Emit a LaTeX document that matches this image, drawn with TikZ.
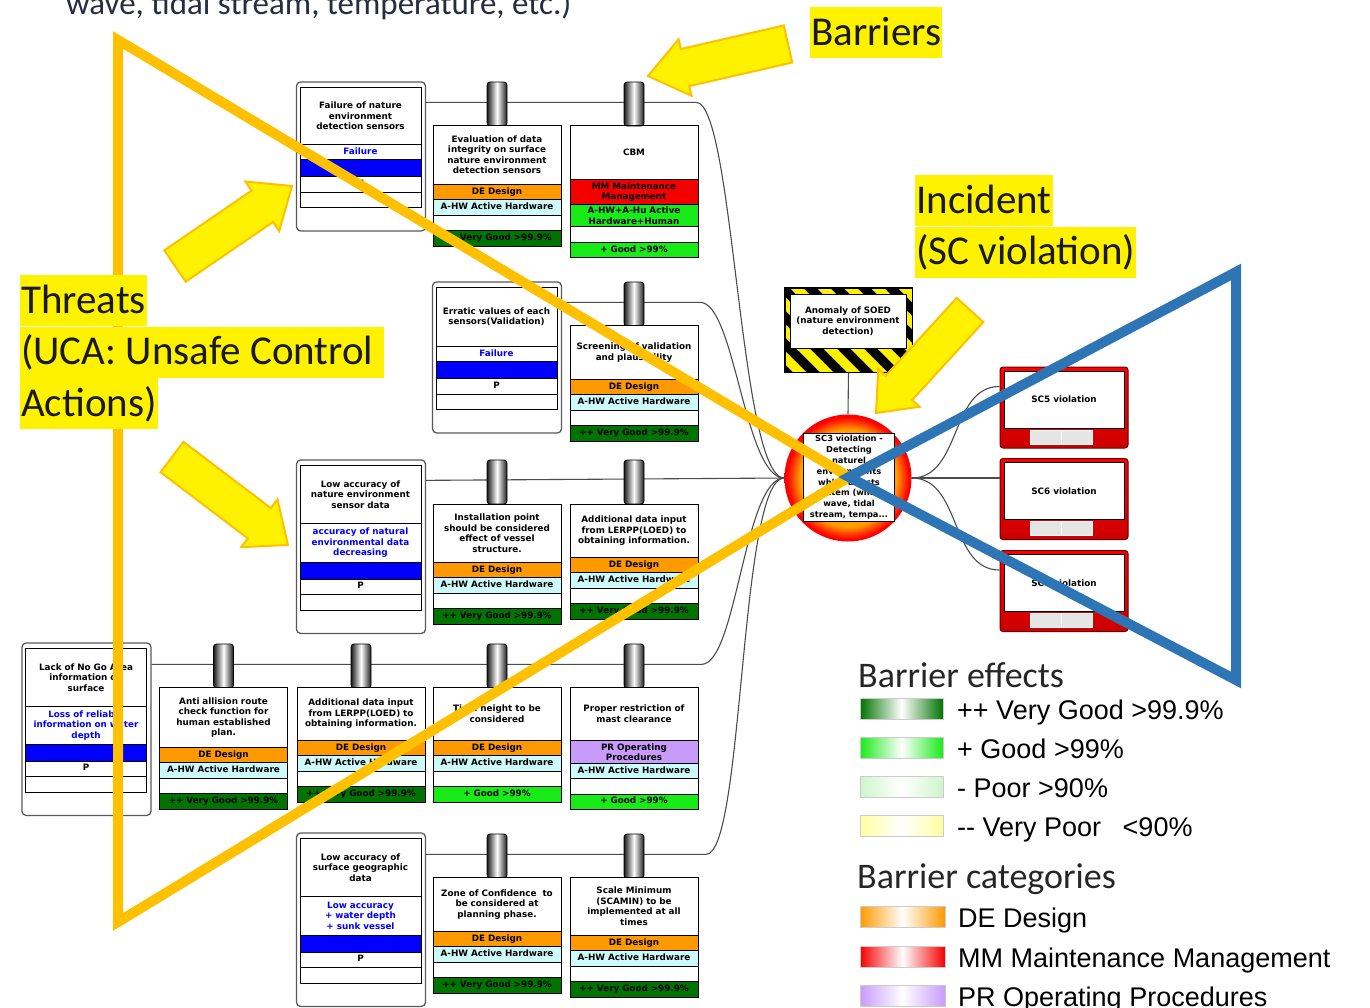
\documentclass[tikz,border=0pt]{standalone}
\usepackage{fontspec}
\usetikzlibrary{calc,fit,shapes.multipart,backgrounds}
\newfontfamily\bxfont{DejaVu Sans}
\newfontfamily\lbfont{Carlito}
\newfontfamily\arfont{Liberation Sans}
\definecolor{deor}{RGB}{255,153,0}
\definecolor{hwcy}{RGB}{205,250,250}
\definecolor{vgood}{RGB}{0,115,0}
\definecolor{good}{RGB}{25,235,25}
\definecolor{poor}{RGB}{205,245,205}
\definecolor{vpoor}{RGB}{255,255,160}
\definecolor{mmred}{RGB}{245,0,0}
\definecolor{prvio}{RGB}{200,155,250}
\definecolor{thrblue}{RGB}{0,0,255}
\definecolor{triorange}{RGB}{255,192,0}
\definecolor{triblue}{RGB}{46,117,182}
\definecolor{hzor}{RGB}{255,160,0}
\definecolor{capgray}{RGB}{40,44,64}
\pgfdeclareradialshading{hzball}{\pgfpointorigin}{color(0bp)=(hzor); color(19bp)=(hzor); color(24bp)=(red); color(50bp)=(red)}
\newcommand{\bx}{\bxfont\bfseries\fontsize{8.8}{10.5}\selectfont}
\newcommand{\ttl}[3][124]{\parbox[c][#2pt][c]{#1pt}{\centering #3}}
\newcommand{\bands}[3]{\nodepart{two}\strut #1\nodepart{three}\strut #2\nodepart{four}\strut\nodepart{five}\strut #3}
\newcommand{\thrparts}[2]{\nodepart{two}\color{thrblue}#1\nodepart{three}\rule{0pt}{12pt}\nodepart{four}\strut #2\nodepart{five}\strut}
\newcommand{\bigarrow}[5]{%
  \coordinate (hb) at ($(#2)!#5!(#1)$);
  \draw[yarr] ($(#1)!#3!90:(#2)$) -- ($(hb)!#3!90:(#2)$) -- ($(hb)!#4!90:(#2)$) -- (#2)
    -- ($(hb)!#4!-90:(#2)$) -- ($(hb)!#3!-90:(#2)$) -- ($(#1)!#3!-90:(#2)$) -- cycle;}
\begin{document}
\begin{tikzpicture}[x=1pt, y=-1pt, every node/.style={font=\bx},
  bar/.style={rectangle split, rectangle split parts=5, draw, line width=0.9pt, text width=124pt,
    inner xsep=2pt, inner ysep=2pt, align=center, anchor=north},
  vgDE/.style={rectangle split part fill={white,deor,hwcy,white,vgood}},
  gDE/.style={rectangle split part fill={white,deor,hwcy,white,good}},
  gPR/.style={rectangle split part fill={white,prvio,hwcy,white,good}},
  thr/.style={bar, text width=117pt, rectangle split part fill={white,white,thrblue,white,white}},
  frm/.style={draw=gray!70!black, line width=1.3pt, rounded corners=4pt, inner sep=0pt},
  pill/.style={draw, line width=0.8pt, rounded corners=3pt, minimum width=20pt, minimum height=44pt,
    inner sep=0pt, left color=black!90, right color=black!90, middle color=white},
  lnk/.style={draw=gray!60!black, line width=1.1pt},
  cons/.style={draw=red!40!black, line width=1pt, rounded corners=3pt, minimum width=128pt,
    minimum height=81pt, inner sep=0pt, top color=red, bottom color=red!80!black},
  consin/.style={draw, fill=white, line width=1pt, minimum width=120pt, minimum height=57pt, inner sep=0pt},
  cell/.style={fill=gray!20, draw=white, line width=0.8pt, minimum width=31pt, minimum height=14pt, inner sep=0pt},
  otri/.style={draw=triorange, line width=10pt},
  btri/.style={draw=triblue, line width=10pt},
  yarr/.style={fill=yellow, draw=triorange, line width=2pt},
  hl/.style={fill=yellow, inner xsep=1pt, inner ysep=0pt, text height=38pt, text depth=13pt,
    anchor=north west, font=\lbfont\fontsize{41}{49}\selectfont, text=black!90},
  hd/.style={anchor=base west, inner sep=0pt, font=\lbfont\fontsize{36}{40}\selectfont, text=black!85},
  sw/.style={minimum width=83pt, minimum height=21pt, inner sep=0pt, draw=gray!40, line width=0.6pt},
  lt/.style={anchor=base west, inner sep=0pt, font=\arfont\fontsize{27}{30}\selectfont}]
\useasboundingbox (0,0) rectangle (1370,1007);
\clip (0,0) rectangle (1370,1007);
\node[anchor=base west, inner sep=0pt, font=\lbfont\fontsize{33}{38}\selectfont, text=capgray] (cap) at (66,14)
  {wave, tidal stream, temperature, etc.)};
% Threats
\node[thr] (t1) at (360.5,87) {\ttl[117]{52}{Failure of nature\\environment\\detection sensors}\thrparts{\strut Failure}{N}};
\node[thr] (t2) at (496.5,287) {\ttl[117]{54}{Erratic values of each\\sensors(Validation)}\thrparts{\strut Failure}{P}};
\node[thr] (t3) at (360.5,465) {\ttl[117]{53}{Low accuracy of\\nature environment\\sensor data}\thrparts{\ttl[117]{34}{accuracy of natural\\environmental data\\decreasing}}{P}};
\node[thr] (t4) at (86,648) {\ttl[117]{53}{Lack of No Go Area\\information on\\surface}\thrparts{\ttl[117]{33}{Loss of reliable\\information on water\\depth}}{P}};
\node[thr] (t5) at (360.5,838) {\ttl[117]{53}{Low accuracy of\\surface geographic\\data}\thrparts{\ttl[117]{34}{Low accuracy\\+ water depth\\+ sunk vessel}}{P}};
\foreach \i in {1,...,5}
  \node[frm, fit={($(t\i.north west)+(-3,-5)$) ($(t\i.south east)+(4,23)$)}] (f\i) {};
% Top event and hazard
\node[draw, line width=1pt, fill=yellow, minimum width=127pt, minimum height=84pt, inner sep=0pt] (hzb) at (848.5,330) {};
\begin{scope}
  \clip (hzb.south west) rectangle (hzb.north east);
  \foreach \s in {0,...,10} \draw[line width=9.5pt] (690+\s*27,276) -- ++(100,100);
\end{scope}
\draw[line width=1pt] (hzb.south west) rectangle (hzb.north east);
\node[draw, fill=white, line width=1pt, minimum width=116pt, minimum height=54pt, text width=110pt, align=center, inner sep=0pt] (hzl)
  at (848,321) {Anomaly of SOED\\(nature environment\\detection)};
\node[circle, minimum size=127pt, inner sep=0pt, shade, shading=hzball] (hz) at (848,478) {};
\node[draw, fill=white, line width=1pt, text width=86pt, align=center, inner sep=2.5pt,
  font=\bx\fontsize{8.3}{10.8}\selectfont] (hzt) at (849,477.5)
  {SC3 violation -\\Detecting\\naturel\\environments\\which affects\\system (wind,\\wave, tidal\\stream, tempa...};
% Consequences
\foreach \n/\y in {5/407.5,6/499,7/591} {
  \node[cons] (c\n) at (1064,\y) {};
  \node[consin] (cw\n) at (1064,\y-8) {SC\n\ violation};
  \node[cell] (cl\n) at (1046,\y+29.5) {};
  \node[cell] (cr\n) at (1077,\y+29.5) {};
}
% Connectors
\draw[lnk] (hzb.south) -- (hz.north);
\draw[lnk] ($(f1.north east)+(0,21)$) -- ++(270,0) .. controls +(38,0) and +(-45,0) .. (hz.west);
\draw[lnk] ($(f2.north east)+(0,21)$) -- ++(138,0) .. controls +(35,0) and +(-40,0) .. (hz.west);
\draw[lnk] ($(f3.north east)+(0,21)$) -- (hz.west);
\draw[lnk] ($(f4.north east)+(0,22)$) -- ++(550,0) .. controls +(35,0) and +(-40,0) .. (hz.west);
\draw[lnk] ($(f5.north east)+(0,22)$) -- ++(280,0) .. controls +(38,0) and +(-45,0) .. (hz.west);
\foreach \n in {5,6,7} \draw[lnk] (hz.east) to[out=0,in=180] ($(c\n.north west)+(0,20)$);
% Barriers
\foreach \n/\x/\y in {11/497/103, 12/634/103, 21/634/303, 31/497/481, 32/634/481, 41/223.5/665,
  42/361/665, 43/497/665, 44/634/665, 51/497/855, 52/634/855}
  \node[pill] (p\n) at (\x,\y+1) {};
\node[bar, vgDE] (b11) at (497,125) {\ttl{54}{Evaluation of data\\integrity on surface\\nature environment\\detection sensors}\bands{DE Design}{A-HW Active Hardware}{++ Very Good >99.9\%}};
\node[bar] (b12) at (634,125)
  {\ttl{49}{CBM}\bands{MM Maintenance\\Management}{A-HW+A-Hu Active\\Hardware+Human}{+ Good >99\%}};
\begin{pgfonlayer}{background}
  \fill[white] (b12.north west) rectangle (b12.south east);
  \fill[mmred] (b12.one split west) rectangle (b12.two split east);
  \fill[good] (b12.two split west) rectangle (b12.three split east);
  \fill[good] (b12.four split west) rectangle (b12.south east);
\end{pgfonlayer}
\node[bar, vgDE] (b21) at (634,325) {\ttl{49}{Screening of validation\\and plausibility}\bands{DE Design}{A-HW Active Hardware}{++ Very Good >99.9\%}};
\node[bar, vgDE] (b31) at (497,504) {\ttl{53}{Installation point\\should be considered\\effect of vessel\\structure.}\bands{DE Design}{A-HW Active Hardware}{++ Very Good >99.9\%}};
\node[bar, vgDE] (b32) at (634,504) {\ttl{48}{Additional data input\\from LERPP(LOED) to\\obtaining information.}\bands{DE Design}{A-HW Active Hardware}{++ Very Good >99.9\%}};
\node[bar, vgDE] (b41) at (223.5,687) {\ttl{55}{Anti allision route\\check function for\\human established\\plan.}\bands{DE Design}{A-HW Active Hardware}{++ Very Good >99.9\%}};
\node[bar, vgDE] (b42) at (361,687) {\ttl{48}{Additional data input\\from LERPP(LOED) to\\obtaining information.}\bands{DE Design}{A-HW Active Hardware}{++ Very Good >99.9\%}};
\node[bar, gDE] (b43) at (497,687) {\ttl{48}{Tidal height to be\\considered}\bands{DE Design}{A-HW Active Hardware}{+ Good >99\%}};
\node[bar, gPR] (b44) at (634,687)
  {\ttl{48}{Proper restriction of\\mast clearance}\bands{PR Operating\\Procedures}{A-HW Active Hardware}{+ Good >99\%}};
\node[bar, vgDE] (b51) at (497,877) {\ttl{49}{Zone of Confidence~ to\\be considered at\\planning phase.}\bands{DE Design}{A-HW Active Hardware}{++ Very Good >99.9\%}};
\node[bar, vgDE] (b52) at (634,877) {\ttl{53}{Scale Minimum\\(SCAMIN) to be\\implemented at all\\times}\bands{DE Design}{A-HW Active Hardware}{++ Very Good >99.9\%}};
% Bow-tie outline
\coordinate (oa) at (118,40); \coordinate (ob) at (118,922); \coordinate (ap) at (849,477);
\coordinate (ba) at (1236,272); \coordinate (bb) at (1236,680);
\draw[otri] (oa) -- (ap) -- (ob) -- cycle;
\draw[btri] (ap) -- (ba) -- (bb) -- cycle;
% Pointers
\coordinate (a1t) at (788,44);  \coordinate (a1h) at (648,76);
\coordinate (a2t) at (175,266); \coordinate (a2h) at (292,186);
\coordinate (a3t) at (172,457); \coordinate (a3h) at (288,545);
\coordinate (a4t) at (970,310); \coordinate (a4h) at (876,413);
\bigarrow{a1t}{a1h}{19pt}{29pt}{38pt}
\bigarrow{a2t}{a2h}{19pt}{30pt}{36pt}
\bigarrow{a3t}{a3h}{19pt}{30pt}{36pt}
\bigarrow{a4t}{a4h}{18pt}{28pt}{34pt}
% Labels
\node[hl] (lb1) at (810,7) {Barriers};
\node[hl] (li1) at (915,175) {Incident};
\node[hl] (li2) at (li1.south west) {(SC violation)};
\node[hl] (lt1) at (20,275) {Threats};
\node[hl] (lt2) at (lt1.south west) {(UCA: Unsafe Control\rule{10pt}{0pt}};
\node[hl] (lt3) at (lt2.south west) {Actions)};
% Legend
\node[hd] (lg1) at (858,687) {Barrier effects};
\foreach \n/\c/\y/\t in {e1/vgood/709/{++ Very Good >99.9\%}, e2/good/748/{+ Good >99\%},
  e3/poor/787/{- Poor >90\%}, e4/vpoor/826/{-{}- Very Poor\hspace{14pt} <90\%}} {
  \node[sw, left color=\c, right color=\c, middle color=white] (\n) at (901.5,\y) {};
  \node[lt] (\n-t) at (957,\y+10) {\t};
}
\node[hd] (lg2) at (857,888) {Barrier categories};
\foreach \n/\c/\y/\t in {k1/deor/917/DE Design, k2/mmred/957/MM Maintenance Management,
  k3/prvio/996/PR Operating Procedures} {
  \node[sw, minimum width=85pt, left color=\c, right color=\c, middle color=white] (\n) at (902.5,\y) {};
  \node[lt] (\n-t) at (958,\y+10) {\t};
}
\end{tikzpicture}
\end{document}
